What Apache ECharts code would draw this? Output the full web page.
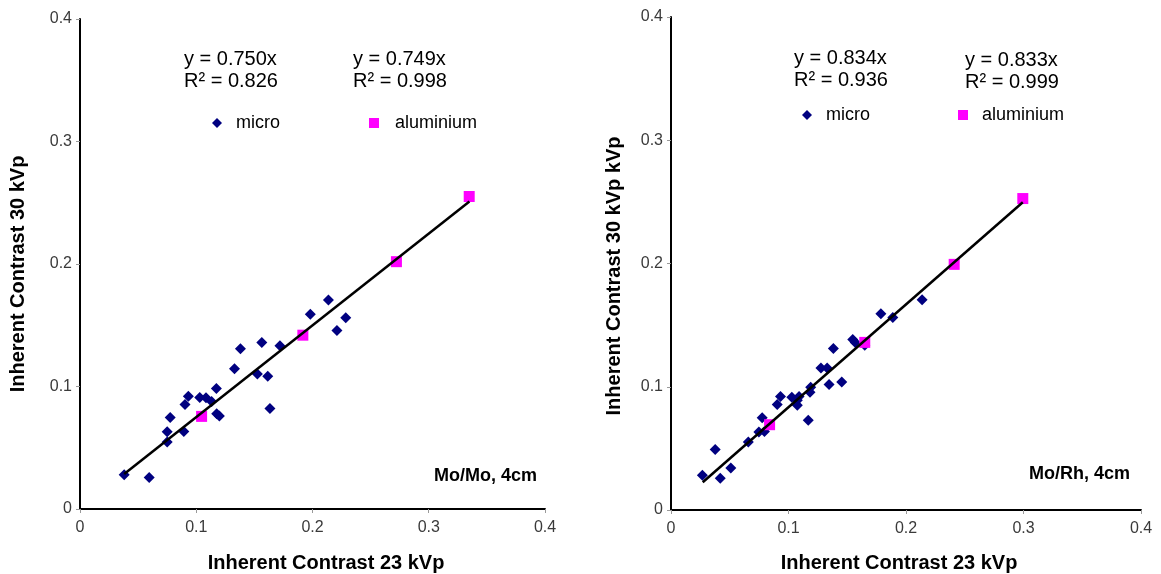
<!DOCTYPE html>
<html>
<head>
<meta charset="utf-8">
<script src="https://cdn.jsdelivr.net/npm/echarts@6/dist/echarts.min.js"></script>
<style>
html,body{margin:0;padding:0;background:#fff;}
#chart{width:1161px;height:574px;}
</style>
</head>
<body>
<div id="chart"></div>
<script>
// ---- data ----
const axisTicks = [0, 0.1, 0.2, 0.3, 0.4];
const leftMicro = [[0.038,0.028],[0.0595,0.0257],[0.075,0.0547],[0.075,0.063],[0.0776,0.0747],[0.0893,0.0633],[0.0903,0.0854],[0.0932,0.092],[0.103,0.0911],[0.1084,0.0908],[0.1132,0.0878],[0.1173,0.0983],[0.1176,0.0777],[0.1199,0.0759],[0.1329,0.1144],[0.138,0.1308],[0.1526,0.1102],[0.1564,0.1359],[0.1615,0.1084],[0.1634,0.0821],[0.172,0.1332],[0.1981,0.1589],[0.2137,0.1706],[0.221,0.1458],[0.2286,0.1562]];
const leftAlu = [[0.1046,0.0756],[0.1917,0.1419],[0.2722,0.2019],[0.3348,0.2551]];
const leftTrend = [[0.038,0.0285],[0.335,0.251]];
const rightMicro = [[0.0267,0.0282],[0.0376,0.049],[0.0419,0.0258],[0.0509,0.0341],[0.0658,0.0552],[0.0748,0.0633],[0.0776,0.0748],[0.0795,0.0636],[0.0904,0.0855],[0.0932,0.0921],[0.1028,0.0915],[0.1075,0.0891],[0.1075,0.0849],[0.109,0.092],[0.1168,0.0728],[0.1183,0.0956],[0.1189,0.0995],[0.1276,0.1152],[0.1329,0.1152],[0.1345,0.1019],[0.1382,0.131],[0.1453,0.1039],[0.1547,0.1384],[0.1568,0.136],[0.1649,0.1336],[0.1786,0.1592],[0.1888,0.1562],[0.2137,0.1705]];
const rightAlu = [[0.0839,0.0692],[0.1649,0.136],[0.241,0.1993],[0.2994,0.2527]];
const rightTrend = [[0.027,0.0225],[0.2994,0.2497]];
const xTitle = 'Inherent Contrast 23 kVp';
const yTitleLeft = 'Inherent Contrast 30 kVp';
const yTitleRight = 'Inherent Contrast 30 kVp kVp';
const eqLeft = ['y = 0.750x\nR² = 0.826', 'y = 0.749x\nR² = 0.998'];
const eqRight = ['y = 0.834x\nR² = 0.936', 'y = 0.833x\nR² = 0.999'];
const labelLeft = 'Mo/Mo, 4cm';
const labelRight = 'Mo/Rh, 4cm';

const FONT = 'Liberation Sans, Arial, sans-serif';
const chart = echarts.init(document.getElementById('chart'));

function axis(gi, type) {
  return {
    type: 'value', gridIndex: gi, min: axisTicks[0], max: axisTicks[axisTicks.length-1], interval: 0.1,
    splitLine: {show: false},
    axisLine: {show: true, onZero: false, lineStyle: {color: '#000', width: 2}},
    axisTick: {show: true, inside: false, length: 4, lineStyle: {color: '#999', width: 1}},
    axisLabel: {color: '#3a3a3a', fontSize: 16, fontFamily: FONT, margin: type === 'x' ? 11 : 8,
      formatter: v => (Math.round(v*10)/10).toString()}
  };
}

function txt(x, y, text, opts) {
  return Object.assign({type: 'text', x: x, y: y, silent: true,
    style: Object.assign({text: text, fill: '#000', font: '20px ' + FONT, lineHeight: 22}, opts || {})});
}

const legText = {fontSize: 18, fontFamily: FONT, color: '#000', padding: [0, 0, 0, 9]};

chart.setOption({
  animation: false,
  backgroundColor: '#fff',
  grid: [
    {left: 80, top: 19, width: 465, height: 490},
    {left: 671, top: 17, width: 470, height: 493}
  ],
  xAxis: [axis(0,'x'), axis(1,'x')],
  yAxis: [axis(0,'y'), axis(1,'y')],
  legend: [
    {data: ['micro'], left: 207, top: 109, itemWidth: 10, itemHeight: 10, textStyle: legText},
    {data: ['aluminium'], left: 364, top: 109, itemWidth: 10, itemHeight: 10, textStyle: Object.assign({}, legText, {padding: [0,0,0,11]})},
    {data: ['micro '], left: 797, top: 101, itemWidth: 10, itemHeight: 10, textStyle: legText},
    {data: ['aluminium '], left: 953, top: 101, itemWidth: 10, itemHeight: 10, textStyle: legText}
  ],
  series: [
    {name: 'micro', type: 'scatter', xAxisIndex: 0, yAxisIndex: 0, data: leftMicro, symbol: 'diamond', symbolSize: 11, itemStyle: {color: '#000080', opacity: 1}},
    {name: 'aluminium', type: 'scatter', xAxisIndex: 0, yAxisIndex: 0, data: leftAlu, symbol: 'rect', symbolSize: 11, itemStyle: {color: '#ff00ff', opacity: 1}},
    {name: 'trendL', type: 'line', xAxisIndex: 0, yAxisIndex: 0, data: leftTrend, symbol: 'none', lineStyle: {color: '#000', width: 2.5}, z: 5},
    {name: 'micro ', type: 'scatter', xAxisIndex: 1, yAxisIndex: 1, data: rightMicro, symbol: 'diamond', symbolSize: 11, itemStyle: {color: '#000080', opacity: 1}},
    {name: 'aluminium ', type: 'scatter', xAxisIndex: 1, yAxisIndex: 1, data: rightAlu, symbol: 'rect', symbolSize: 11, itemStyle: {color: '#ff00ff', opacity: 1}},
    {name: 'trendR', type: 'line', xAxisIndex: 1, yAxisIndex: 1, data: rightTrend, symbol: 'none', lineStyle: {color: '#000', width: 2.5}, z: 5}
  ],
  graphic: [
    txt(184, 48, eqLeft[0]),
    txt(353, 48, eqLeft[1]),
    txt(794, 47, eqRight[0]),
    txt(965, 49, eqRight[1]),
    txt(537, 476, labelLeft, {font: 'bold 18px ' + FONT, align: 'right', verticalAlign: 'middle'}),
    txt(1130, 474, labelRight, {font: 'bold 18px ' + FONT, align: 'right', verticalAlign: 'middle'}),
    txt(326, 563, xTitle, {font: 'bold 20px ' + FONT, align: 'center', verticalAlign: 'middle'}),
    txt(899, 563, xTitle, {font: 'bold 20px ' + FONT, align: 'center', verticalAlign: 'middle'}),
    {type: 'text', x: 18, y: 274, rotation: Math.PI/2, silent: true,
      style: {text: yTitleLeft, font: 'bold 20px ' + FONT, fill: '#000', align: 'center', verticalAlign: 'middle'}},
    {type: 'text', x: 614, y: 276, rotation: Math.PI/2, silent: true,
      style: {text: yTitleRight, font: 'bold 20px ' + FONT, fill: '#000', align: 'center', verticalAlign: 'middle'}}
  ]
});
</script>
</body>
</html>
